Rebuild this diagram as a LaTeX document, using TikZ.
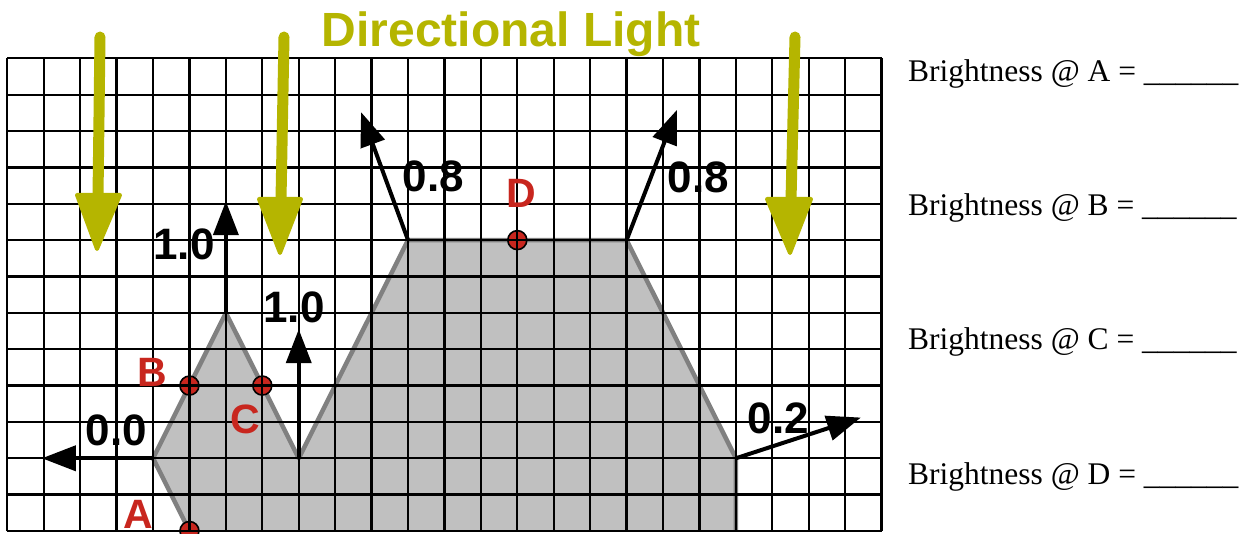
\documentclass[tikz,border=0pt]{standalone}
\usepackage{fontspec}
\setmainfont{Liberation Serif}
\newfontfamily\sansf{Liberation Sans}
\usetikzlibrary{arrows.meta}
\definecolor{lightyel}{RGB}{181,181,0}
\definecolor{ptred}{RGB}{200,38,30}
\definecolor{shapefill}{RGB}{192,192,192}
\definecolor{outlinegray}{RGB}{128,128,128}
\tikzset{
  gridline/.style={black,line width=2.3pt},
  shapeline/.style={outlinegray,line width=4.5pt,line join=round},
  normalarrow/.style={black,line width=4pt,-{Triangle[length=34pt,width=25pt]}},
  lightshaft/.style={lightyel,line width=11pt,line cap=round},
  lighthead/.style={lightyel,fill=lightyel,line width=4pt,line join=round},
  numlabel/.style={anchor=base,inner sep=0pt,font=\sansf\bfseries\fontsize{44}{44}\selectfont},
  ptlabel/.style={anchor=base,inner sep=0pt,text=ptred,font=\sansf\bfseries\fontsize{41}{41}\selectfont},
  ptdot/.style={circle,fill=ptred,draw=black,line width=1.6pt,minimum size=19pt,inner sep=0pt},
  qtext/.style={anchor=base west,inner sep=0pt,font=\fontsize{31.5}{31.5}\selectfont},
}
\begin{document}
\begin{tikzpicture}[x=36.43pt,y=36.36pt]
\useasboundingbox (-7.3pt,-2pt) rectangle (1236.7pt,531pt);
% surface corners
\coordinate (S0) at (5,0);
\coordinate (S1) at (4,2);
\coordinate (S2) at (6,6);
\coordinate (S3) at (8,2);
\coordinate (S4) at (11,8);
\coordinate (S5) at (17,8);
\coordinate (S6) at (20,2);
\coordinate (S7) at (20,0);
% surface
\fill[shapefill] (S0) -- (S1) -- (S2) -- (S3) -- (S4) -- (S5) -- (S6) -- (S7) -- cycle;
\draw[shapeline] (S0) -- (S1) -- (S2) -- (S3) -- (S4) -- (S5) -- (S6) -- (S7);
% sample points
\node[ptdot] (A) at (5,0) {};
\node[ptdot] (B) at (5,4) {};
\node[ptdot] (C) at (7,4) {};
\node[ptdot] (D) at (14,8) {};
% grid
\foreach \i in {0,...,24} \draw[gridline] (\i,0) -- (\i,13);
\foreach \j in {0,...,13} \draw[gridline] (0,\j) -- (24,\j);
% normals
\coordinate (N1) at (0.95,2);
\coordinate (N2) at (6,9.07);
\coordinate (N3) at (8,5.55);
\coordinate (N4) at (9.71,11.52);
\coordinate (N5) at (18.38,11.58);
\coordinate (N6) at (23.43,3.12);
\draw[normalarrow] (S1) -- (N1);
\draw[normalarrow] (S2) -- (N2);
\draw[normalarrow] (S3) -- (N3);
\draw[normalarrow] (S4) -- (N4);
\draw[normalarrow] (S5) -- (N5);
\draw[normalarrow] (S6) -- (N6);
\node[numlabel] (l1) at (109.2pt,86pt) {0.0};
\node[numlabel] (l2) at (176.7pt,271pt) {1.0};
\node[numlabel] (l3) at (286.7pt,208pt) {1.0};
\node[numlabel] (l4) at (426.2pt,339pt) {0.8};
\node[numlabel] (l5) at (691.2pt,338pt) {0.8};
\node[numlabel] (l6) at (771.2pt,98pt) {0.2};
% point labels
\node[ptlabel] (tA) at (130.7pt,3pt) {A};
\node[ptlabel] (tB) at (145.2pt,144pt) {B};
\node[ptlabel] (tC) at (238.2pt,98pt) {C};
\node[ptlabel] (tD) at (513.7pt,323pt) {D};
% light arrows
\coordinate (L1a) at (92.7pt,494pt);
\coordinate (L1b) at (90.7pt,334pt);
\coordinate (L2a) at (276.7pt,494pt);
\coordinate (L2b) at (273.7pt,331pt);
\coordinate (L3a) at (787.7pt,494pt);
\coordinate (L3b) at (783.7pt,331pt);
\draw[lightshaft] (L1a) -- (L1b);
\draw[lightshaft] (L2a) -- (L2b);
\draw[lightshaft] (L3a) -- (L3b);
\draw[lighthead] (69.7pt,336pt) -- (112.7pt,336pt) -- (89.7pt,282pt) -- cycle;
\draw[lighthead] (251.7pt,332pt) -- (293.7pt,332pt) -- (272.7pt,278pt) -- cycle;
\draw[lighthead] (759.7pt,332pt) -- (803.7pt,332pt) -- (782.7pt,278pt) -- cycle;
\node[anchor=base,inner sep=0pt,text=lightyel,font=\sansf\bfseries\fontsize{48}{48}\selectfont] (title) at (503.7pt,484pt) {Directional Light};
% questions
\node[qtext] (qA) at (900.7pt,449pt) {Brightness @ A = \_\_\_\_\_\_};
\node[qtext] (qB) at (900.7pt,315pt) {Brightness @ B = \_\_\_\_\_\_};
\node[qtext] (qC) at (900.7pt,181pt) {Brightness @ C = \_\_\_\_\_\_};
\node[qtext] (qD) at (900.7pt,47pt) {Brightness @ D = \_\_\_\_\_\_};
\end{tikzpicture}
\end{document}
